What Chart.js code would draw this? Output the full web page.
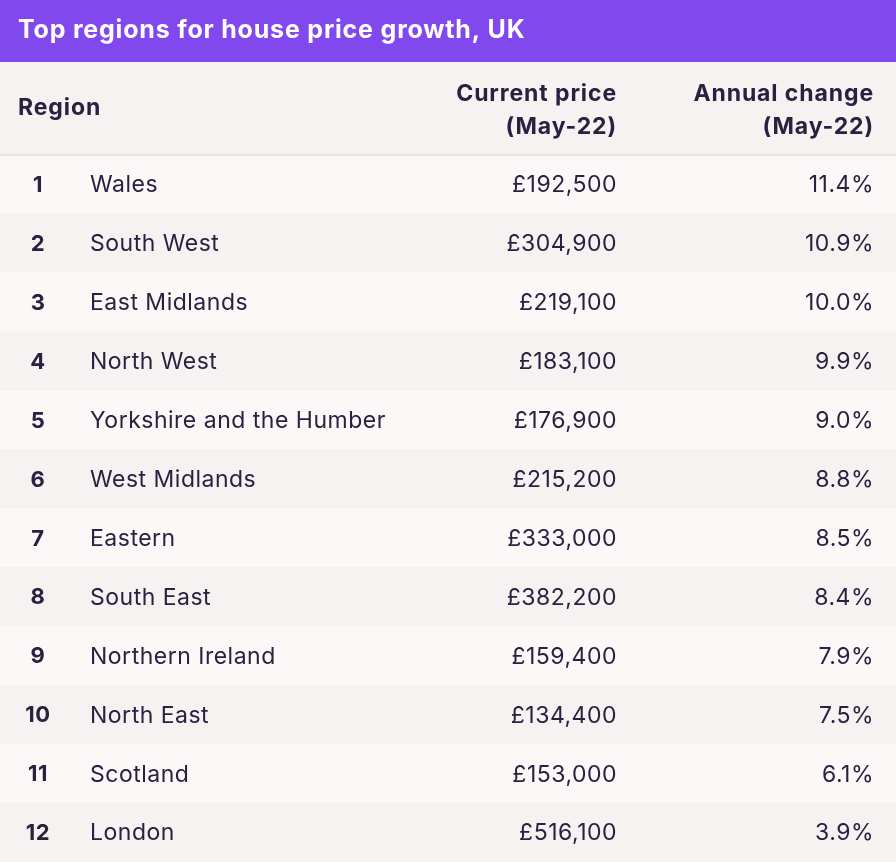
<!DOCTYPE html>
<html>
<head>
<meta charset="utf-8">
<script src="https://cdn.jsdelivr.net/npm/chart.js@4/dist/chart.umd.min.js"></script>
<style>
  html, body { margin: 0; padding: 0; background: #f4f3f2; }
  #table { display: block; }
</style>
</head>
<body>
<canvas id="table" width="896" height="862"></canvas>
<script>
const title = "Top regions for house price growth, UK";
const headers = ["Region", ["Current price", "(May-22)"], ["Annual change", "(May-22)"]];
const ranks = [1, 2, 3, 4, 5, 6, 7, 8, 9, 10, 11, 12];
const regions = [
    "Wales", "South West", "East Midlands", "North West",
    "Yorkshire and the Humber", "West Midlands", "Eastern", "South East",
    "Northern Ireland", "North East", "Scotland", "London",
];
const prices = [192500, 304900, 219100, 183100, 176900, 215200, 333000, 382200, 159400, 134400, 153000, 516100];
const changes = [11.4, 10.9, 10.0, 9.9, 9.0, 8.8, 8.5, 8.4, 7.9, 7.5, 6.1, 3.9];

const purple = "#8148ee";
const ink = "#2a2140";
const rowLight = "#faf9f8";
const rowDark = "#f4f3f2";
const fontFamily = "Inter, 'Noto Sans', sans-serif";

const tablePlugin = {
    id: "tableText",
    beforeDraw: (chart) => {
        const { ctx, width } = chart;
        ctx.save();
        ctx.fillStyle = rowDark;
        ctx.fillRect(0, 0, width, chart.chartArea.top);
        ctx.restore();
    },
    afterDraw: (chart) => {
        const { ctx, width } = chart;
        const x = chart.scales.x;
        const y = chart.scales.y;
        const top = chart.chartArea.top;
        ctx.save();

        // title banner
        ctx.fillStyle = purple;
        ctx.fillRect(0, 0, width, 62);
        ctx.fillStyle = "#ffffff";
        ctx.font = `bold 25px ${fontFamily}`;
        ctx.letterSpacing = "0.8px";
        ctx.textBaseline = "middle";
        ctx.textAlign = "left";
        ctx.fillText(title, 18, 30);

        // header
        ctx.fillStyle = ink;
        ctx.font = `bold 23px ${fontFamily}`;
        ctx.letterSpacing = "0.9px";
        ctx.fillText(headers[0], x.getPixelForValue(18), 108);
        ctx.textAlign = "right";
        ctx.fillText(headers[1][0], x.getPixelForValue(617), 94);
        ctx.fillText(headers[1][1], x.getPixelForValue(617), 127);
        ctx.fillText(headers[2][0], x.getPixelForValue(874), 94);
        ctx.fillText(headers[2][1], x.getPixelForValue(874), 127);

        ctx.fillStyle = "#e6e4e2";
        ctx.fillRect(0, top - 1, width, 2);

        // rows
        ctx.letterSpacing = "0.5px";
        regions.forEach((region, i) => {
            const cy = y.getPixelForValue(i) + 1;
            ctx.fillStyle = ink;
            ctx.font = `bold 22px ${fontFamily}`;
            ctx.textAlign = "center";
            ctx.fillText(String(ranks[i]), x.getPixelForValue(38), cy);
            ctx.font = `23px ${fontFamily}`;
            ctx.textAlign = "left";
            ctx.fillText(region, x.getPixelForValue(90), cy);
            ctx.textAlign = "right";
            ctx.fillText("£" + prices[i].toLocaleString("en-GB"), x.getPixelForValue(617), cy);
            ctx.fillText(changes[i].toFixed(1) + "%", x.getPixelForValue(874), cy);
        });
        ctx.restore();
    },
};

const makeTable = (id) => {
    const config = {
        type: "bar",
        data: {
            labels: regions,
            datasets: [
                {
                    data: regions.map(() => [0, 896]),
                    backgroundColor: regions.map((r, i) => (i % 2 === 0 ? rowLight : rowDark)),
                    borderWidth: 0,
                    barPercentage: 1,
                    categoryPercentage: 1,
                },
            ],
        },
        options: {
            indexAxis: "y",
            responsive: false,
            animation: false,
            devicePixelRatio: 1,
            layout: { padding: { top: 155, left: 0, right: 0, bottom: 0 } },
            plugins: { legend: { display: false }, tooltip: { enabled: false } },
            scales: {
                x: { type: "linear", min: 0, max: 896, display: false },
                y: { display: false, offset: true },
            },
        },
        plugins: [tablePlugin],
    };
    const ctx = document.getElementById(id).getContext("2d");
    new Chart(ctx, config);
};

makeTable("table");
</script>
</body>
</html>
